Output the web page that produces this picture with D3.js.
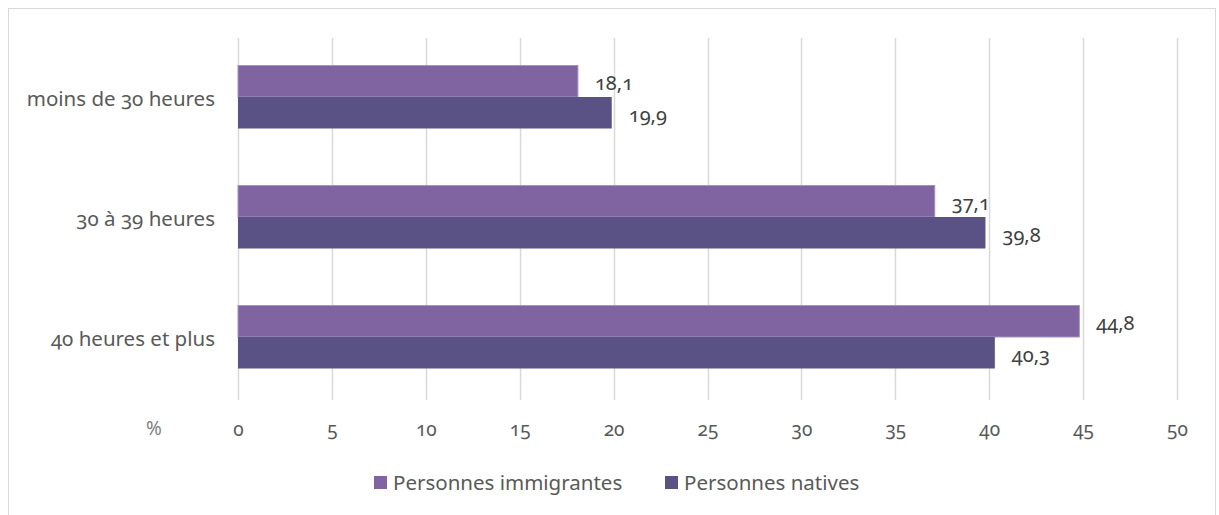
<!DOCTYPE html>
<html lang="fr">
<head>
<meta charset="utf-8">
<title>Heures travaillées</title>
<style>
  body { margin: 0; padding: 0; background: #fff; }
  svg text { font-family: 'Noto Sans', 'Open Sans', sans-serif; font-feature-settings: "onum" 1; }
  .legend text { font-feature-settings: normal; }
</style>
</head>
<body>
<div id="chart"></div>
<script src="https://d3js.org/d3.v7.min.js"></script>
<script>
// data
var categories = ["moins de 30 heures", "30 à 39 heures", "40 heures et plus"];
var seriesNames = ["Personnes immigrantes", "Personnes natives"];
var immigrantes = [18.1, 37.1, 44.8];
var natives = [19.9, 39.8, 40.3];
var xTicks = [0, 5, 10, 15, 20, 25, 30, 35, 40, 45, 50];
var colors = ["#8064a2", "#5a5284"];

var W = 1219, H = 515;

var svg = d3.select("#chart").append("svg")
  .attr("width", W)
  .attr("height", H);

// chart border
svg.append("rect")
  .attr("x", 8.5).attr("y", 8.5)
  .attr("width", 1207).attr("height", 520)
  .attr("fill", "none")
  .attr("stroke", "#d9d9d9")
  .attr("stroke-width", 1);

var x = d3.scaleLinear().domain([0, 50]).range([238, 1177]);
var y = d3.scaleBand().domain(categories).range([37, 397])
  .paddingInner(0.475).paddingOuter(0.2375);
var ySub = d3.scaleBand().domain(seriesNames).range([0, y.bandwidth()]);

// gridlines
svg.append("g").selectAll("line")
  .data(xTicks)
  .enter().append("line")
  .attr("x1", d => Math.round(x(d)) + 0.5)
  .attr("x2", d => Math.round(x(d)) + 0.5)
  .attr("y1", 38).attr("y2", 400)
  .attr("stroke", "#d9d9d9")
  .attr("stroke-width", 1.5);

// x axis labels (no domain line)
var xAxis = svg.append("g")
  .call(d3.axisBottom(x).tickValues(xTicks).tickSize(0).tickPadding(0).tickFormat(d => d));
xAxis.select(".domain").remove();
xAxis.selectAll("text")
  .attr("y", 436)
  .attr("dy", 0)
  .attr("fill", "#595959")
  .style("font-size", "19px");

svg.append("text")
  .attr("x", 154).attr("y", 435)
  .attr("text-anchor", "middle")
  .attr("fill", "#7f7f7f")
  .style("font-size", "19px")
  .text("%");

// category labels
svg.append("g").selectAll("text")
  .data(categories)
  .enter().append("text")
  .attr("x", 215)
  .attr("y", d => y(d) + y.bandwidth() / 2 + 8.5)
  .attr("text-anchor", "end")
  .attr("fill", "#595959")
  .style("font-size", "20.5px")
  .text(d => d);

// bars
var rows = [];
categories.forEach(function (c, i) {
  rows.push({ cat: c, s: seriesNames[0], v: immigrantes[i], col: colors[0] });
  rows.push({ cat: c, s: seriesNames[1], v: natives[i], col: colors[1] });
});

svg.append("g").selectAll("rect")
  .data(rows)
  .enter().append("rect")
  .attr("x", x(0))
  .attr("y", d => y(d.cat) + ySub(d.s))
  .attr("width", d => x(d.v) - x(0))
  .attr("height", ySub.bandwidth())
  .attr("fill", d => d.col)
  .attr("stroke", d => d.s === seriesNames[0] ? "#a592c0" : "none")
  .attr("stroke-width", 1);

// value labels
svg.append("g").selectAll("text")
  .data(rows)
  .enter().append("text")
  .attr("x", d => x(d.v) + 17)
  .attr("y", d => y(d.cat) + ySub(d.s) + ySub.bandwidth() / 2 + 9)
  .attr("fill", "#404040")
  .style("font-size", "20px")
  .text(d => d3.format(".1f")(d.v).replace(".", ","));

// legend
var legend = svg.append("g").attr("class", "legend");
var legX = [374, 665];
seriesNames.forEach(function (s, i) {
  legend.append("rect")
    .attr("x", legX[i]).attr("y", 476)
    .attr("width", 13).attr("height", 13)
    .attr("fill", colors[i]);
  legend.append("text")
    .attr("x", legX[i] + 19).attr("y", 490)
    .attr("fill", "#595959")
    .style("font-size", "20.5px")
    .text(s);
});
</script>
</body>
</html>
